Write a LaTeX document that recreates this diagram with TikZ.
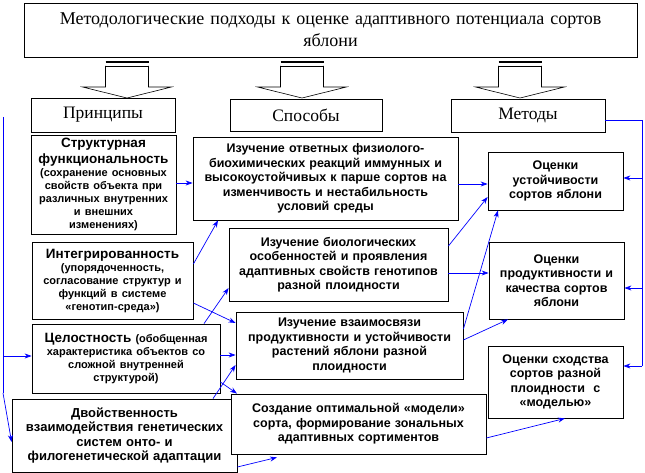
\documentclass[tikz,border=0pt]{standalone}
\usepackage{fontspec}
\setmainfont{Liberation Serif}
\setsansfont{Liberation Sans}
\usetikzlibrary{arrows.meta,calc}
\begin{document}
\begin{tikzpicture}[x=1pt,y=-1pt,
  box/.style={draw=black, line width=0.8pt, fill=white, inner sep=0pt, align=center},
  serif/.style={font=\rmfamily\fontsize{17.5}{21}\selectfont},
  bt/.style={font=\sffamily\bfseries\fontsize{12.5}{14.5}\selectfont},
  arr/.style={draw=blue, line width=0.7pt, -{Stealth[length=7pt,width=5pt]}},
  bl/.style={draw=blue, line width=0.7pt},
  hollow/.style={draw=black, line width=0.6pt, fill=white}]
\useasboundingbox (0,0) rectangle (645,473);
% top
\node[box, serif, font=\rmfamily\fontsize{18}{22}\selectfont, minimum width=613, minimum height=54, text width=600] (top) at (330.5,30)
  {Методологические подходы к оценке адаптивного потенциала сортов\\яблони};
\node[box, serif, minimum width=144, minimum height=34] (pr) at (103,115) {Принципы};
\node[box, serif, minimum width=152, minimum height=32] (sp) at (306,115) {Способы};
\node[box, serif, minimum width=154, minimum height=33] (me) at (528,115.5) {Методы};
% block arrows
\foreach \cx in {127,302,520}{
  \draw[hollow] (\cx-21.5,66) -- (\cx-21.5,87) -- (\cx-44.5,87) -- (\cx,98) -- (\cx+44.5,87) -- (\cx+21.5,87) -- (\cx+21.5,66);
  \draw[line width=2pt] (\cx-21.5,62.5) -- (\cx+21.5,62.5);
  \draw[line width=0.8pt] (\cx-21.5,66) -- (\cx+21.5,66);
}
% principles
\node[box, bt, minimum width=145, minimum height=99, text width=140] (s1) at (103.5,184.5)
  {{\fontsize{13.5}{15.5}\selectfont Структурная\\функциональность\par}%
   {\fontsize{11}{13}\selectfont (сохранение основных\\свойств объекта при\\различных внутренних\\и внешних\\изменениях)\par}};
\node[box, bt, minimum width=161, minimum height=77, text width=156] (s2) at (112.5,280.5)
  {{\fontsize{13.5}{14.5}\selectfont Интегрированность\par}%
   {\fontsize{11}{13}\selectfont (упорядоченность,\\согласование структур и\\функций в системе\\«генотип-среда»)\par}};
\node[box, bt, minimum width=188, minimum height=69, text width=183] (s3) at (126,358.5)
  {{\fontsize{13.5}{14.5}\selectfont Целостность} {\fontsize{11}{13}\selectfont (обобщенная\\характеристика объектов со\\сложной внутренней\\структурой)\par}};
\node[box, bt, minimum width=225, minimum height=73, text width=220] (s4) at (124.5,435.5)
  {{\fontsize{13}{14.5}\selectfont Двойственность\\взаимодействия генетических\\систем онто- и\\филогенетической адаптации\par}};
% ways
\node[box, bt, minimum width=265, minimum height=83, text width=260] (m1) at (325.5,178.5)
  {Изучение ответных физиолого-\\биохимических реакций иммунных и\\высокоустойчивых к парше сортов на\\изменчивость и нестабильность\\условий среды};
\node[box, bt, minimum width=219, minimum height=73, text width=214] (m2) at (338.5,264.5)
  {Изучение биологических\\особенностей и проявления\\адаптивных свойств генотипов\\разной плоидности};
\node[box, bt, minimum width=227, minimum height=67, text width=222] (m3) at (349.5,345.5)
  {Изучение взаимосвязи\\продуктивности и устойчивости\\растений яблони разной\\плоидности};
\node[box, bt, minimum width=255, minimum height=60, text width=250] (m4) at (358.5,424)
  {Создание оптимальной «модели»\\сорта, формирование зональных\\адаптивных сортиментов};
% methods
\node[box, bt, minimum width=135, minimum height=58, text width=130] (o1) at (555.5,181)
  {Оценки\\устойчивости\\сортов яблони};
\node[box, bt, minimum width=135, minimum height=77, text width=130] (o2) at (556.5,280.5)
  {Оценки\\продуктивности и\\качества сортов\\яблони};
\node[box, bt, minimum width=135, minimum height=72, text width=130] (o3) at (555.5,382)
  {Оценки сходства\\сортов разной\\плоидности~~с\\«моделью»};
% left bracket
\coordinate (L1) at (3,117);
\coordinate (L2) at (3,393);
\draw[bl] (L1) -- (L2);
\draw[arr] (L2) -- (s4.west |- 0,442);
\draw[arr] (3,356) -- (s3.west |- 0,356);
% right bracket
\coordinate (R1) at (642,120);
\coordinate (R2) at (642,366);
\draw[bl] (me.east |- 0,120) -- (R1) -- (R2);
\draw[arr] (R1 |- 0,178) -- (o1.east |- 0,178);
\draw[arr] (R1 |- 0,288) -- (o2.east |- 0,288);
\draw[arr] (R2) -- (o3.east |- R2);
% connectors
\draw[arr] (s1.east |- 0,183) -- (m1.west |- 0,183);
\draw[arr] (s2.east |- 0,264) -- (m1.south -| 218,0);
\draw[arr] (s3.north -| 204,0) -- (m2.west |- 0,288);
\draw[arr] (s2.east |- 0,303) -- (m3.west |- 0,323);
\draw[arr] (s3.east |- 0,355) -- (m3.west |- 0,355);
\draw[arr] (s4.north -| 213,0) -- (m3.west |- 0,365);
\draw[arr] (s3.east |- 0,382) -- (m4.north -| 237,0);
\draw[arr] (s4.east |- 0,467) -- ($(m4.south -| 277,0)+(0,3)$);
\draw[arr] (m1.east |- 0,184) -- (o1.west |- 0,184);
\draw[arr] (m2.east |- 0,246) -- (o1.west |- 0,197);
\draw[arr] (m3.east |- 0,329) -- (o1.south -| 498,0);
\draw[arr] (m2.east |- 0,273) -- (o2.west |- 0,273);
\draw[arr] (m3.east |- 0,340) -- (o2.south -| 508,0);
\draw[arr] (m4.east |- 0,438) -- (o3.south -| 565,0);
\end{tikzpicture}
\end{document}
